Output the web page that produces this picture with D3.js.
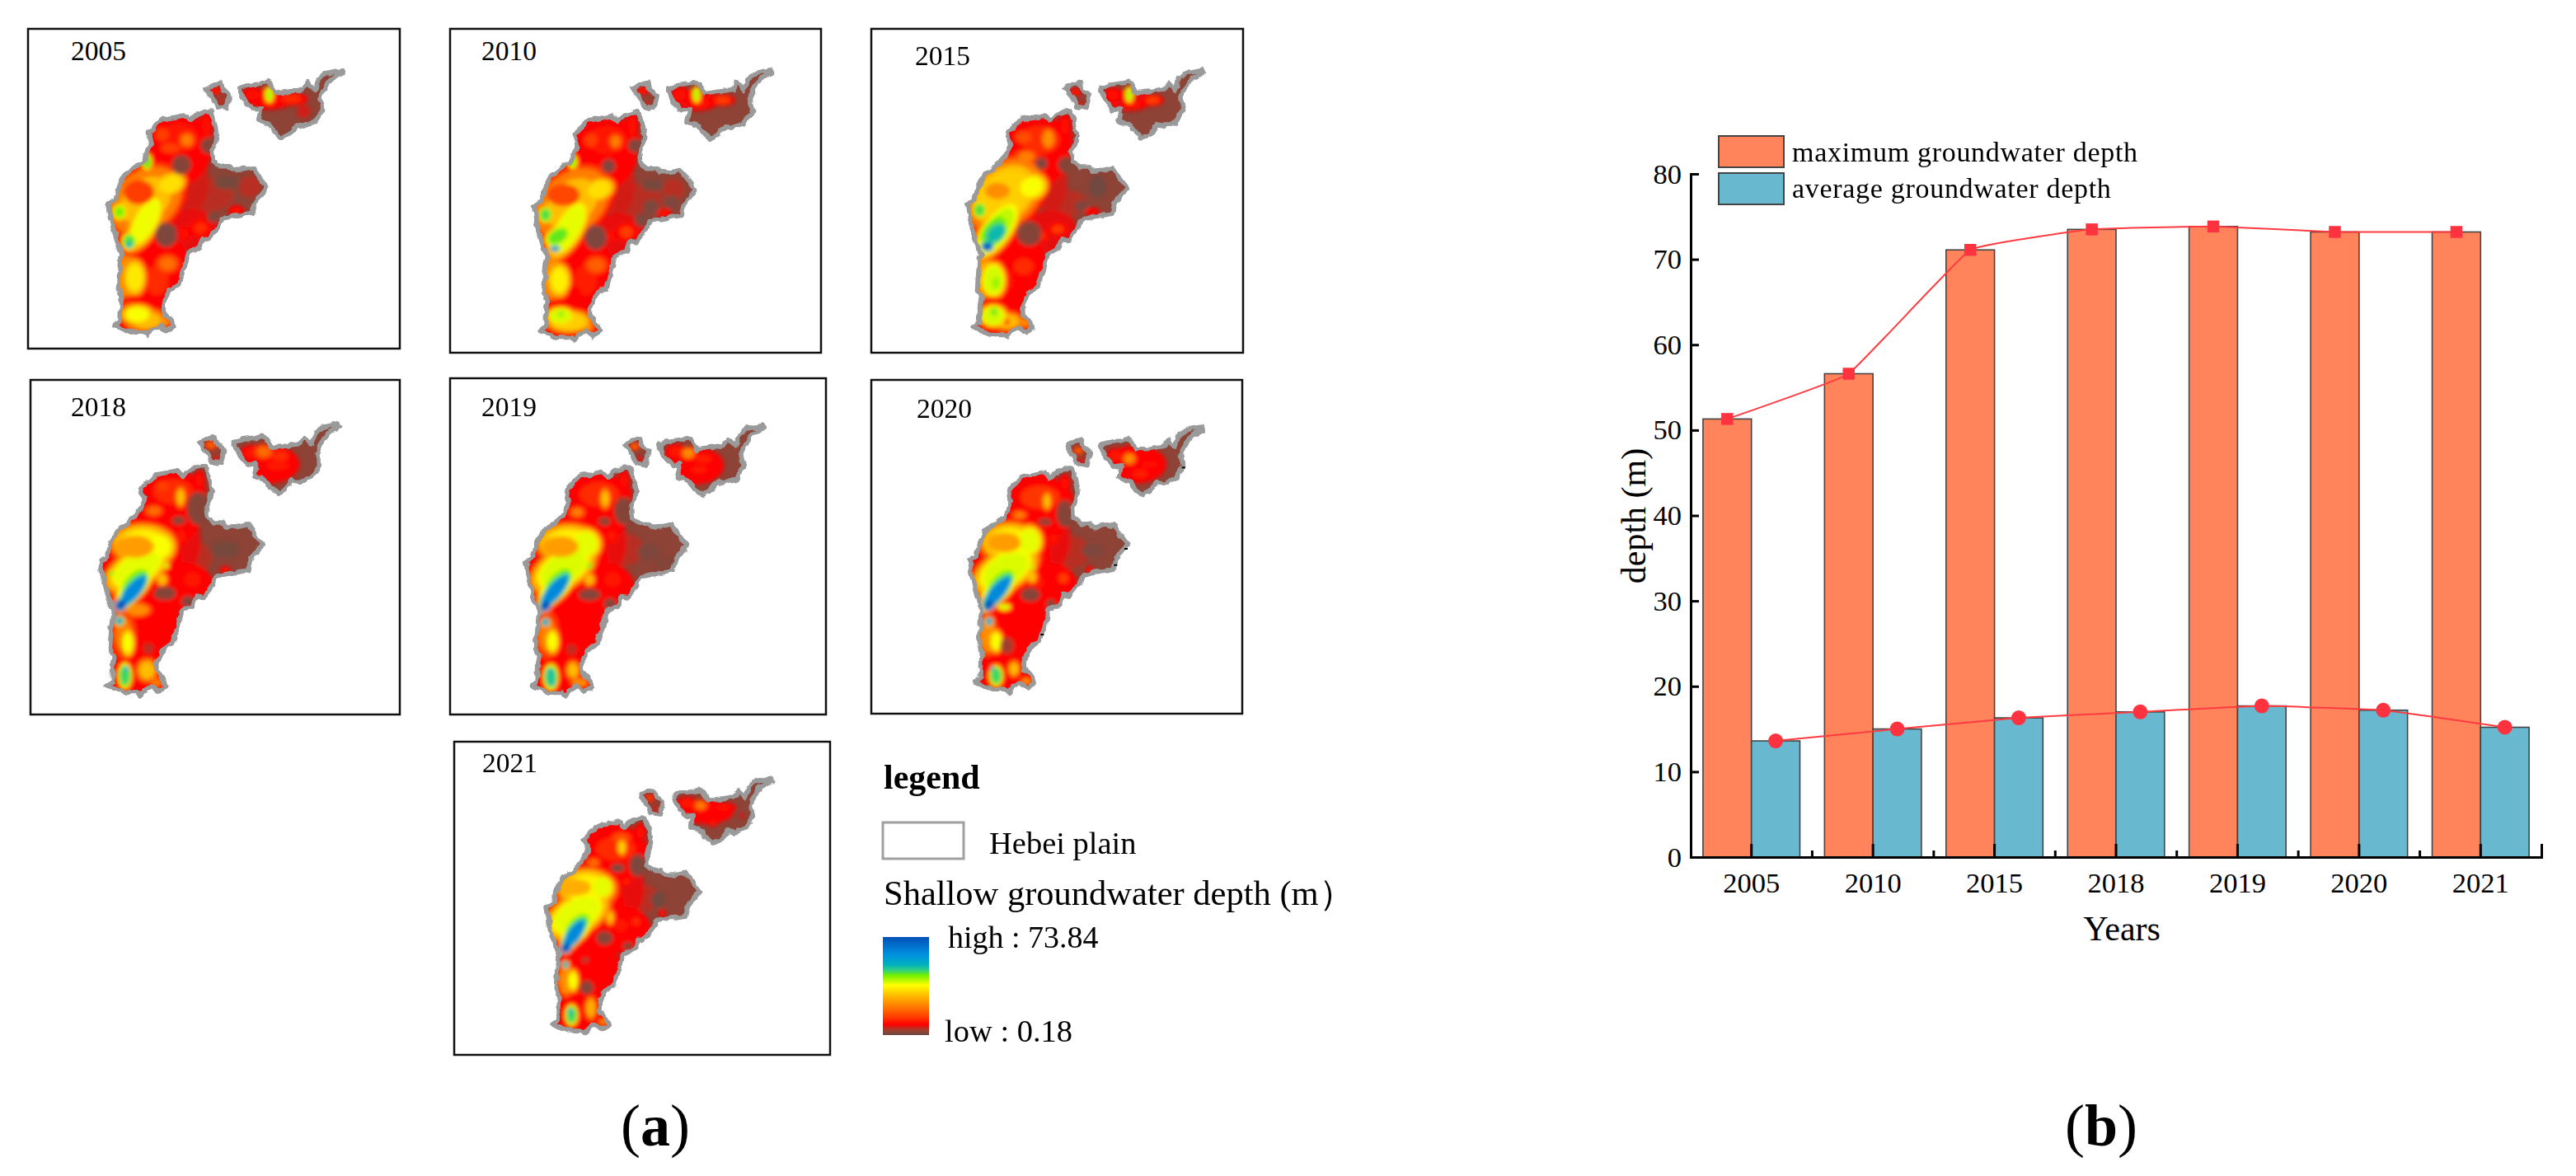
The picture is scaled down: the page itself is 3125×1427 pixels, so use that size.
<!DOCTYPE html>
<html>
<head>
<meta charset="utf-8">
<script src="https://cdn.jsdelivr.net/npm/d3@7"></script>
<style>
  html, body { margin: 0; background: #fff; }
  svg { display: block; }
  text { font-family: "Liberation Serif", "Times New Roman", serif; fill: #000; }
</style>
</head>
<body>
<svg id="chart" width="3125" height="1427"></svg>
<script>
// ---- panel (b) data
const years = ['2005', '2010', '2015', '2018', '2019', '2020', '2021']
const maxDepth = [51.3, 56.6, 71.1, 73.5, 73.84, 73.2, 73.2]
const avgDepth = [13.6, 15.0, 16.3, 17.0, 17.7, 17.2, 15.2]
const depthTicks = [0, 10, 20, 30, 40, 50, 60, 70, 80]

// ---- panel (a) legend ramp
const rampDepth = [0.18, 3.9, 8, 14.2, 22.3, 30.4, 37.7, 45.1, 48.8, 53.2, 60.6, 73.84]
const rampColor = ['#6a4a42', '#a04030', '#ff0000', '#ff4000', '#ff8000', '#ffc000',
  '#ffff00', '#70f000', '#30d080', '#00b0c0', '#0090e0', '#0050b8']
const contourLevels = [8, 14, 22, 30, 38, 45, 50, 55, 62, 73.84]

// ---- region outline, traced on the 2005 panel
const mainland = [[690,345],[708,345],[718,375],[730,430],[725,460],[712,490],[715,525],[740,545],[770,545],[785,560],[820,558],[860,550],[880,580],[912,622],[890,650],[870,675],[860,715],[800,725],[750,735],[735,765],[700,810],[680,805],[665,840],[625,860],[610,920],[590,975],[555,1000],[535,1045],[535,1075],[565,1105],[570,1130],[545,1145],[520,1125],[495,1140],[480,1160],[465,1150],[420,1150],[380,1135],[357,1125],[378,1110],[380,1040],[385,1020],[370,990],[378,880],[385,865],[370,830],[355,780],[345,740],[335,682],[360,665],[375,615],[395,575],[435,545],[460,525],[475,500],[490,465],[478,425],[510,395],[530,375],[560,370],[610,360],[630,380],[660,355]]
const smallIsland = [[690,262],[715,248],[745,240],[750,265],[775,285],[765,335],[730,328],[715,300]]
const northEast = [[815,258],[850,250],[890,245],[910,238],[925,245],[945,280],[1000,272],[1045,265],[1060,242],[1085,268],[1100,225],[1130,205],[1180,195],[1185,205],[1145,225],[1115,270],[1105,300],[1115,340],[1085,385],[1045,400],[1020,395],[990,430],[965,440],[940,420],[920,395],[880,380],[890,335],[860,340],[835,310],[815,275]]

// ---- depth field per year: [x, y, rx, ry, angle, depth] in the panel's own units
const blobs2005 = [[470,490,240,160,0,8],[450,740,120,230,20,8],[490,960,150,190,0,8],[460,1100,130,70,0,8],[640,780,100,80,0,7],[640,600,60,110,0,6],[920,300,90,40,0,7],[590,440,120,85,0,10],[620,450,35,35,0,22],[530,430,40,40,0,14],[560,480,60,30,0,14],[690,400,25,60,0,9],[470,670,170,125,-40,30],[560,610,70,50,-20,34],[470,745,140,60,-62,38.5],[375,712,30,35,0,45],[410,820,32,38,0,47],[410,832,14,14,0,56],[475,530,22,35,0,46],[430,950,50,80,0,35],[400,950,60,110,0,24],[550,900,50,40,0,20],[510,960,70,90,0,12],[440,1085,70,45,0,38],[470,1105,90,50,0,30],[530,1110,40,25,0,24],[400,1090,30,50,0,14],[670,770,40,35,0,12],[800,708,30,22,0,9],[610,790,25,25,0,9],[920,285,20,35,0,42],[860,285,40,30,0,9],[1000,300,60,25,0,12],[920,310,50,25,0,10],[1045,345,25,25,0,6],[725,270,25,15,0,10],[745,310,14,20,0,5],[700,650,90,60,0,5],[850,620,40,40,0,5]]
const lows2005 = [[600,540,35,35,0,2],[445,640,55,45,0,14],[545,795,40,45,0,1.5],[715,730,20,20,0,1.5],[765,605,45,25,0,1],[700,470,30,30,0,2],[440,1028,70,10,0,8]]

const blobs2010 = [[490,505,240,160,0,8],[470,755,120,230,20,8],[510,975,150,190,0,8],[480,1115,130,70,0,8],[660,795,100,80,0,7],[660,615,60,110,0,6],[940,305,90,40,0,7],[620,450,120,85,0,10],[650,455,30,35,0,22],[560,450,40,40,0,14],[710,400,25,55,0,9],[490,680,180,125,-40,30],[590,630,70,50,-20,34],[480,770,150,65,-60,39],[395,722,30,35,0,47],[440,800,60,38,-30,46],[430,845,25,14,0,58],[495,530,20,30,0,44],[445,960,50,75,0,36],[420,950,50,110,0,24],[580,905,50,40,0,18],[540,960,70,90,0,11],[450,1090,60,40,0,40],[480,1110,100,50,0,32],[540,1130,40,25,0,24],[452,1082,12,12,0,46],[420,1100,30,50,0,14],[690,785,40,35,0,14],[825,715,30,18,0,9],[630,800,20,20,0,9],[945,285,18,35,0,42],[885,285,40,30,0,9],[1040,305,45,22,0,14],[960,315,50,22,0,10],[750,270,25,15,0,10],[770,320,14,18,0,5],[730,670,90,60,0,5],[860,630,40,40,0,5]]
const lows2010 = [[625,545,25,25,0,1.5],[460,650,60,40,0,15],[578,805,40,45,0,1.5],[745,740,25,25,0,1.5],[780,695,30,30,0,1.5],[785,615,40,20,0,1],[855,675,25,25,0,1.5],[720,470,25,25,0,1.5],[440,1040,50,8,0,8],[500,1010,25,30,0,8]]

const blobs2015 = [[520,495,240,160,0,8],[500,745,120,230,20,8],[540,965,150,190,0,8],[510,1105,130,70,0,8],[690,785,100,80,0,7],[690,605,60,110,0,6],[970,305,90,40,0,7],[650,450,120,85,0,12],[680,445,30,45,0,24],[590,440,40,30,0,16],[740,400,25,50,0,9],[600,510,50,30,0,22],[520,650,180,130,-40,32],[620,620,70,60,-20,38],[495,775,150,65,-55,41],[480,780,90,50,-50,46],[430,705,30,35,0,47],[490,790,60,42,-45,52],[458,838,28,22,0,70],[480,960,55,80,0,40],[490,970,25,35,0,43],[450,950,40,100,0,28],[590,910,60,50,0,12],[540,960,30,60,0,9],[480,1090,60,50,0,40],[483,1075,16,22,0,46],[530,1110,70,40,0,30],[595,1115,25,20,0,24],[715,775,35,25,0,14],[660,800,22,22,0,12],[840,710,30,15,0,8],[975,285,18,35,0,42],[915,285,35,28,0,9],[1060,305,40,22,0,14],[990,320,40,15,0,10],[780,275,22,15,0,10],[800,320,12,15,0,6],[740,680,80,50,0,5]]
const lows2015 = [[655,535,22,22,0,1.5],[495,635,45,30,0,24],[610,790,45,45,0,2],[860,620,30,40,0,0.5],[800,690,25,20,0,1.5],[745,540,30,30,0,2],[530,1112,10,10,0,12],[480,1030,60,8,0,8]]

const blobs2018 = [[440,510,240,160,0,8],[440,760,150,230,20,8],[460,980,150,190,0,8],[430,1120,130,70,0,8],[620,790,100,90,0,8],[610,620,60,110,0,7],[920,340,110,70,0,8],[570,440,120,75,0,12],[597,460,22,45,0,30],[530,420,40,30,0,14],[665,400,22,40,0,9],[500,510,40,25,0,20],[460,630,135,85,0,36],[520,640,70,70,0,38],[440,720,150,80,-30,39],[430,775,105,55,-50,45],[425,800,95,36,-50,62],[380,852,30,25,-45,73],[345,738,12,12,0,46],[375,910,22,22,0,54],[545,710,12,12,0,42],[530,760,25,30,0,30],[405,990,30,60,0,38],[390,960,50,100,0,22],[480,950,70,90,0,8],[395,1110,30,55,0,48],[400,1085,10,12,0,58],[475,1090,45,50,0,30],[510,1135,30,20,0,22],[440,870,60,30,0,24],[640,760,50,45,0,10],[600,600,25,35,0,10],[760,725,20,15,0,9],[900,295,40,30,0,20],[860,300,50,30,0,10],[950,345,70,30,0,10],[960,310,50,30,0,12],[708,270,25,18,0,18],[725,320,12,15,0,6],[640,680,70,60,0,5]]
const lows2018 = [[430,640,70,40,0,26],[590,545,25,15,0,2],[540,810,40,25,0,2],[625,840,25,20,0,1.5],[760,650,50,30,0,1],[480,1010,20,20,0,5],[660,500,40,60,0,2]]

const blobs2019 = [[460,510,240,160,0,8],[460,765,150,230,20,8],[480,985,150,190,0,8],[450,1125,130,70,0,8],[620,790,100,90,0,8],[630,620,60,110,0,7],[935,345,110,70,0,8],[590,450,120,75,0,12],[612,465,22,45,0,30],[510,515,35,25,0,22],[680,400,22,40,0,9],[480,630,135,85,0,36],[540,630,70,70,0,39],[460,720,150,85,-30,39.5],[440,775,110,55,-50,45],[430,800,100,36,-50,62],[395,855,30,22,-45,73],[395,915,20,18,0,56],[555,710,14,14,0,46],[555,760,25,30,0,30],[420,985,30,55,0,38],[400,960,50,100,0,22],[500,950,70,90,0,8],[415,1115,32,55,0,50],[408,1095,8,12,0,58],[425,1138,8,10,0,56],[495,1090,30,40,0,30],[520,1135,40,20,0,24],[640,760,50,45,0,10],[635,600,25,30,0,10],[915,300,30,25,0,24],[870,295,40,30,0,10],[955,360,50,25,0,10],[970,320,50,25,0,11],[720,275,22,15,0,18],[740,325,12,15,0,7],[680,650,70,60,0,5]]
const lows2019 = [[450,640,65,38,0,26],[610,548,22,15,0,2],[555,815,40,22,0,2],[630,848,22,20,0,1.5],[770,660,40,30,0,1.5],[830,700,40,25,0,2],[490,1015,18,20,0,5],[680,510,35,50,0,2]]

const blobs2020 = [[530,500,240,160,0,8],[525,755,150,230,20,8],[550,970,150,190,0,8],[520,1110,130,70,0,8],[690,790,100,90,0,8],[700,610,60,110,0,7],[1000,340,110,70,0,8],[650,460,120,70,0,13],[675,475,20,40,0,30],[575,525,35,20,0,22],[740,410,22,35,0,9],[540,625,125,85,0,36],[610,620,60,70,0,39],[525,725,150,85,-30,39.5],[505,780,110,55,-50,45],[495,805,100,36,-50,62],[465,852,30,22,-45,73],[465,912,18,18,0,56],[625,715,10,10,0,44],[620,750,25,30,0,30],[520,860,30,15,0,40],[490,985,30,50,0,38],[460,960,40,90,0,24],[570,950,70,80,0,8],[490,1110,30,45,0,48],[478,1085,8,12,0,58],[555,1085,25,35,0,30],[600,1130,25,15,0,24],[735,755,30,30,0,14],[640,770,40,40,0,10],[700,610,20,25,0,10],[830,725,15,15,0,9],[975,320,28,25,0,24],[925,310,35,30,0,10],[1015,375,45,25,0,11],[1050,340,55,20,0,9],[790,290,20,15,0,18],[800,330,12,15,0,7],[760,660,70,60,0,5]]
const lows2020 = [[520,625,60,36,0,26],[668,550,25,12,0,2],[615,815,35,25,0,2],[690,850,18,18,0,2],[840,655,40,25,0,1.5],[530,1000,25,30,0,4],[740,520,30,50,0,2]]
const ticks2020 = [[1172,352],[963,648],[925,707],[658,960]]

const blobs2021 = [[500,440,230,150,0,8],[490,700,150,225,20,8],[510,910,145,180,0,8],[480,1040,125,70,0,8],[650,715,100,85,0,8],[670,560,55,100,0,7],[950,285,100,45,0,8],[620,420,120,70,0,12],[643,415,20,35,0,32],[540,470,30,20,0,20],[710,360,22,35,0,9],[640,380,45,25,0,16],[515,565,125,85,0,36],[570,560,55,55,0,39],[480,660,150,85,-30,39],[480,705,95,52,-50,45],[470,730,85,34,-55,62],[440,780,26,22,-45,73],[438,842,16,16,0,54],[600,670,20,35,0,30],[465,900,25,50,0,38],[440,900,35,70,0,24],[540,880,60,70,0,8],[460,1025,28,45,0,48],[455,1012,8,14,0,56],[530,1000,25,50,0,28],[575,1050,20,12,0,24],[695,685,25,25,0,12],[640,700,40,40,0,10],[660,540,15,15,0,12],[790,655,15,15,0,9],[930,262,30,22,0,22],[880,255,40,25,0,10],[1010,270,50,20,0,9],[975,325,20,15,0,10],[1080,300,8,8,0,8],[745,235,20,14,0,14],[765,275,10,14,0,6],[720,600,60,50,0,5]]
const lows2021 = [[470,560,60,30,0,28],[628,490,25,15,0,1],[580,745,30,25,0,2],[665,775,18,15,0,2],[775,605,25,30,0,0.5],[515,925,25,25,0,2],[700,480,30,40,0,1.5],[510,825,12,8,0,2]]

const panelBlobs = [blobs2005, blobs2010, blobs2015, blobs2018, blobs2019, blobs2020, blobs2021]
const panelLows = [lows2005, lows2010, lows2015, lows2018, lows2019, lows2020, lows2021]

// frame [x0, y0, x1, y1], year label pos, crop origin of the field, outline anchor + scale
const panelFrames = [[34,35,485,423],[546,35,996,428],[1057,35,1508,428],[37,461,485,867],[546,459,1002,867],[1057,461,1507,866],[551,900,1007,1280]]
const panelLabels = [[86,73],[584,73],[1110,79],[86,505],[584,505],[1112,507],[585,937]]
const panelOrigins = [[20,20],[530,20],[1045,20],[20,450],[530,450],[1045,450],[540,890]]
const panelAnchors = [[139,395,1],[655,401,1.02],[1181,397,1.008],[129,832,1.024],[645,832,1.018],[1183,828,1],[670,1243,0.964]]

const svg = d3.select('#chart')
const defs = svg.append('defs')
const font = '"Liberation Serif", "Times New Roman", serif'

const depthColor = d3.scaleLinear().domain(rampDepth).range(rampColor).clamp(true)

defs.append('filter').attr('id', 'soft')
  .attr('x', '-10%').attr('y', '-10%').attr('width', '120%').attr('height', '120%')
  .append('feGaussianBlur').attr('stdDeviation', 2.6)

const rough = defs.append('filter').attr('id', 'rough')
  .attr('x', '-5%').attr('y', '-5%').attr('width', '110%').attr('height', '110%')
rough.append('feTurbulence').attr('type', 'fractalNoise').attr('baseFrequency', 0.09)
  .attr('numOctaves', 2).attr('seed', 4).attr('result', 'n')
rough.append('feDisplacementMap').attr('in', 'SourceGraphic').attr('in2', 'n')
  .attr('scale', 7).attr('xChannelSelector', 'R').attr('yChannelSelector', 'G')

// one blob becomes nested contours, outer one red, so rims go through the legend ramp
function contours(blobs) {
  let out = []
  blobs.forEach(b => {
    const peak = b[5]
    if (peak <= contourLevels[0]) {
      out.push({ b: b, f: 1, depth: peak })
      return
    }
    contourLevels.filter(l => l < peak).forEach(l => {
      const f = 0.6 + 0.4 * Math.pow((peak - l) / (peak - contourLevels[0]), 0.5)
      out.push({ b: b, f: f, depth: l })
    })
    out.push({ b: b, f: 0.6, depth: peak })
  })
  return out.sort((p, q) => d3.ascending(p.depth, q.depth))
}

years.forEach((year, i) => {
  const frame = panelFrames[i]
  const origin = panelOrigins[i]
  const anchor = panelAnchors[i]
  const g = svg.append('g').attr('class', 'panel-' + year)

  g.append('rect')
    .attr('x', frame[0]).attr('y', frame[1])
    .attr('width', frame[2] - frame[0]).attr('height', frame[3] - frame[1])
    .attr('fill', '#fff').attr('stroke', '#111').attr('stroke-width', 2.5)

  // outline scales
  const ox = d3.scaleLinear().domain([357, 357 + 3]).range([anchor[0], anchor[0] + anchor[2]])
  const oy = d3.scaleLinear().domain([1125, 1125 + 3]).range([anchor[1], anchor[1] + anchor[2]])
  const outline = d3.line().x(p => ox(p[0])).y(p => oy(p[1])).curve(d3.curveLinearClosed)
  const shape = [mainland, smallIsland, northEast].map(outline).join(' ')

  // field scales, one panel unit is a third of a pixel
  const fx = d3.scaleLinear().domain([0, 3]).range([origin[0], origin[0] + 1])
  const fy = d3.scaleLinear().domain([0, 3]).range([origin[1], origin[1] + 1])

  defs.append('clipPath').attr('id', 'clip' + year).append('path').attr('d', shape)

  const field = g.append('g').attr('clip-path', 'url(#clip' + year + ')')
  field.append('path').attr('d', shape).attr('fill', depthColor(2.6))

  const soft = field.append('g').attr('filter', 'url(#soft)')
  const drawBlob = (sel, rows) => sel.selectAll('ellipse.n')
    .data(rows).enter().append('ellipse')
    .attr('transform', d => 'translate(' + fx(d.b[0]) + ',' + fy(d.b[1]) + ') rotate(' + d.b[4] + ')')
    .attr('rx', d => d.b[2] * d.f / 3)
    .attr('ry', d => d.b[3] * d.f / 3)
    .attr('fill', d => depthColor(d.depth))

  drawBlob(soft.append('g'), contours(panelBlobs[i]))
  drawBlob(soft.append('g'), panelLows[i].map(b => ({ b: b, f: 1, depth: b[5] })))

  g.append('path').attr('d', shape)
    .attr('fill', 'none').attr('stroke', '#9a9a9a').attr('stroke-width', 5.5)
    .attr('stroke-linejoin', 'round')
    .attr('filter', 'url(#rough)')

  if (year === '2020') {
    g.selectAll('line.mark').data(ticks2020).enter().append('line')
      .attr('class', 'mark')
      .attr('x1', d => fx(d[0]) - 2).attr('x2', d => fx(d[0]) + 2)
      .attr('y1', d => fy(d[1])).attr('y2', d => fy(d[1]))
      .attr('stroke', '#000').attr('stroke-width', 2)
  }

  g.append('text').attr('x', panelLabels[i][0]).attr('y', panelLabels[i][1])
    .attr('font-size', 33.5).text(year)
})

// ---- legend of panel (a)
const legendA = svg.append('g').attr('class', 'legend-a')
legendA.append('text').attr('x', 1072).attr('y', 957)
  .attr('font-size', 42).attr('font-weight', 'bold').text('legend')
legendA.append('rect').attr('x', 1071).attr('y', 998).attr('width', 98).attr('height', 44)
  .attr('fill', '#fff').attr('stroke', '#a0a0a0').attr('stroke-width', 3)
legendA.append('text').attr('x', 1200).attr('y', 1036).attr('font-size', 38.5).text('Hebei plain')
legendA.append('text').attr('x', 1072).attr('y', 1098).attr('font-size', 42.5)
  .text('Shallow groundwater depth (m）')
legendA.append('text').attr('x', 1150).attr('y', 1150).attr('font-size', 38).text('high : 73.84')
legendA.append('text').attr('x', 1146).attr('y', 1264).attr('font-size', 38.5).text('low : 0.18')

const ramp = defs.append('linearGradient').attr('id', 'ramp')
  .attr('x1', 0).attr('x2', 0).attr('y1', 1).attr('y2', 0)
ramp.selectAll('stop').data(rampDepth).enter().append('stop')
  .attr('offset', d => (d - rampDepth[0]) / (rampDepth[rampDepth.length - 1] - rampDepth[0]))
  .attr('stop-color', d => depthColor(d))
legendA.append('rect').attr('x', 1071).attr('y', 1137).attr('width', 56).attr('height', 119)
  .attr('fill', 'url(#ramp)')

// ---- panel (b)
const margin = { top: 211, right: 42, bottom: 387, left: 2051 }
const width = 3125 - margin.left - margin.right
const height = 1427 - margin.top - margin.bottom

const chart = svg.append('g')
  .attr('transform', 'translate(' + margin.left + ', ' + margin.top + ')')

const x = d3.scaleBand().domain(years).range([0, width])
const xSub = d3.scaleBand().domain(['max', 'avg']).range([0, x.bandwidth()]).paddingOuter(0.254)
const y = d3.scaleLinear().domain([0, 80]).range([height, 0])

const series = [
  { key: 'max', values: maxDepth, fill: '#ff845c' },
  { key: 'avg', values: avgDepth, fill: '#68b8d0' }
]

series.forEach(s => {
  chart.selectAll('rect.' + s.key)
    .data(s.values).enter().append('rect')
    .attr('class', s.key)
    .attr('x', (d, i) => x(years[i]) + xSub(s.key))
    .attr('y', d => y(d))
    .attr('width', xSub.bandwidth())
    .attr('height', d => height - y(d))
    .attr('fill', s.fill)
    .attr('stroke', '#444').attr('stroke-width', 1.6)
})

// major ticks from the axes, minor ones at the band edges
chart.selectAll('line.minor').data(years.slice(0, -1)).enter().append('line')
  .attr('class', 'minor')
  .attr('x1', d => x(d) + x.step()).attr('x2', d => x(d) + x.step())
  .attr('y1', height).attr('y2', height - 8)
  .attr('stroke', '#000').attr('stroke-width', 3)

const xAxisGroup = chart.append('g').attr('transform', 'translate(0, ' + height + ')')
  .call(d3.axisBottom(x).tickSize(-16).tickPadding(19))
const yAxisGroup = chart.append('g')
  .call(d3.axisLeft(y).tickValues(depthTicks).tickSize(-10).tickPadding(11))

;[xAxisGroup, yAxisGroup].forEach(a => {
  a.selectAll('path').attr('stroke', '#000').attr('stroke-width', 3)
  a.selectAll('line').attr('stroke', '#000').attr('stroke-width', 3)
  a.selectAll('text').attr('font-size', 34.5).attr('font-family', font).attr('fill', '#000')
})
xAxisGroup.selectAll('text').attr('dy', '0.71em')

const markerX = (key, i) => x(years[i]) + xSub(key) + xSub.bandwidth() / 2
const lineFor = key => d3.line()
  .x((d, i) => markerX(key, i))
  .y(d => y(d))
  .curve(d3.curveCardinal.tension(0.75))

chart.append('path').datum(maxDepth).attr('d', lineFor('max'))
  .attr('fill', 'none').attr('stroke', '#ff3b40').attr('stroke-width', 2)
chart.append('path').datum(avgDepth).attr('d', lineFor('avg'))
  .attr('fill', 'none').attr('stroke', '#ff3b40').attr('stroke-width', 2)

chart.selectAll('path.square').data(maxDepth).enter().append('path')
  .attr('class', 'square')
  .attr('transform', (d, i) => 'translate(' + markerX('max', i) + ',' + y(d) + ')')
  .attr('d', d3.symbol(d3.symbolSquare, 210))
  .attr('fill', '#ff3340')
chart.selectAll('circle.dot').data(avgDepth).enter().append('circle')
  .attr('class', 'dot')
  .attr('cx', (d, i) => markerX('avg', i))
  .attr('cy', d => y(d))
  .attr('r', 9)
  .attr('fill', '#ff3340')

// axis titles
svg.append('text').attr('x', 2574).attr('y', 1141)
  .attr('font-size', 42).attr('text-anchor', 'middle').text('Years')
svg.append('text').attr('transform', 'translate(1996, 626) rotate(-90)')
  .attr('font-size', 42).attr('text-anchor', 'middle').text('depth (m)')

// legend of panel (b)
const legendB = [
  { label: 'maximum groundwater depth', fill: '#ff845c', y: 165, base: 196 },
  { label: 'average groundwater depth', fill: '#68b8d0', y: 210, base: 240 }
]
legendB.forEach(l => {
  svg.append('rect').attr('x', 2085).attr('y', l.y).attr('width', 79).attr('height', 38)
    .attr('fill', l.fill).attr('stroke', '#444').attr('stroke-width', 2)
  svg.append('text').attr('x', 2174).attr('y', l.base).attr('font-size', 34)
    .attr('letter-spacing', 0.7).text(l.label)
})

// sub figure captions
const captions = [['a', 795], ['b', 2549]]
captions.forEach(c => {
  const t = svg.append('text').attr('x', c[1]).attr('y', 1390)
    .attr('font-size', 72).attr('text-anchor', 'middle')
  t.append('tspan').text('(')
  t.append('tspan').attr('font-weight', 'bold').text(c[0])
  t.append('tspan').text(')')
})
</script>
</body>
</html>
